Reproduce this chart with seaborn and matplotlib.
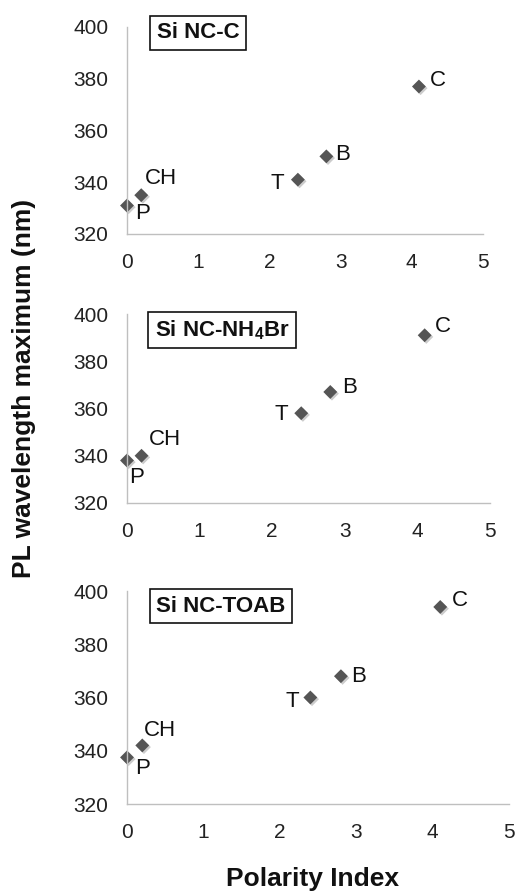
import matplotlib
matplotlib.use("Agg")
import matplotlib.pyplot as plt
import matplotlib.patheffects as pe
import seaborn as sns

# values
solvents = ["P", "CH", "T", "B", "C"]
polarity_index = [0.0, 0.2, 2.4, 2.8, 4.1]
pl_sinc_c = [331, 335, 341, 350, 377]
pl_sinc_nh4br = [338, 340, 358, 367, 391]
pl_sinc_toab = [337.5, 342, 360, 368, 394]
panel_titles = ["Si NC-C", r"Si NC-NH$_\mathbf{4}$Br", "Si NC-TOAB"]
x_ticks = [0, 1, 2, 3, 4, 5]
y_ticks = [320, 340, 360, 380, 400]

sns.set_style("white")
plt.rcParams["font.family"] = ["Liberation Sans", "DejaVu Sans"]
plt.rcParams["mathtext.fontset"] = "custom"
plt.rcParams["mathtext.rm"] = "Liberation Sans"
plt.rcParams["mathtext.bf"] = "Liberation Sans:bold"

W, H = 517, 894
fig = plt.figure(figsize=(W / 100, H / 100), dpi=100)

# axes boxes in pixels: left, right, top, bottom
boxes = [(127, 483, 27, 234), (127, 490, 314, 503), (127, 509, 591, 804)]
# title box centres in pixels
title_pos = [(198, 33), (222, 330), (221, 606)]
# label offsets (points) for each solvent, per panel
offsets = [
    {"P": (11, -6), "CH": (14, 12), "T": (-15, -3), "B": (12, 1), "C": (14, 4)},
    {"P": (7, -12), "CH": (17, 12), "T": (-14, -1), "B": (14, 3), "C": (13, 6)},
    {"P": (11, -8), "CH": (13, 11), "T": (-13, -3), "B": (13, 0), "C": (14, 5)},
]

series = [pl_sinc_c, pl_sinc_nh4br, pl_sinc_toab]
grey = "#bfbfbf"

for i, (vals, box) in enumerate(zip(series, boxes)):
    l, r, t, b = box
    ax = fig.add_axes([l / W, 1 - b / H, (r - l) / W, (b - t) / H])
    sns.scatterplot(x=polarity_index, y=vals, ax=ax, marker="D", s=50,
                    color="#555555", edgecolor="none", clip_on=False)
    ax.collections[0].set_path_effects([
        pe.SimplePatchShadow(offset=(1.2, -1.2), shadow_rgbFace="#aaaaaa", alpha=0.6),
        pe.Normal()])
    for name, xv, yv in zip(solvents, polarity_index, vals):
        ax.annotate(name, (xv, yv), xytext=offsets[i][name], textcoords="offset points",
                    ha="center", va="center", fontsize=16, color="#111111")
    ax.set_xlim(0, 5)
    ax.set_ylim(320, 400)
    ax.set_xticks(x_ticks)
    ax.set_yticks(y_ticks)
    for s in ["top", "right"]:
        ax.spines[s].set_visible(False)
    for s in ["left", "bottom"]:
        ax.spines[s].set_color(grey)
        ax.spines[s].set_linewidth(1.0)
    ax.tick_params(axis="both", direction="out", length=4.5, width=1.0, color=grey,
                   labelsize=15, labelcolor="#222222")
    ax.tick_params(axis="x", pad=9)
    ax.tick_params(axis="y", pad=9)
    ax.set_facecolor("none")

    tx, ty = title_pos[i]
    fig.text(tx / W, 1 - ty / H, panel_titles[i], ha="center", va="center",
             fontsize=16, fontweight="bold", color="#111111",
             bbox=dict(boxstyle="square,pad=0.3", facecolor="white", edgecolor="#111111", linewidth=1.2))

fig.text(24 / W, 1 - 388 / H, "PL wavelength maximum (nm)", rotation=90,
         ha="center", va="center", fontsize=19, fontweight="bold", color="#111111")
fig.text(312 / W, 1 - 879 / H, "Polarity Index", ha="center", va="center",
         fontsize=19, fontweight="bold", color="#111111")

fig.savefig("out.png", dpi=100)
